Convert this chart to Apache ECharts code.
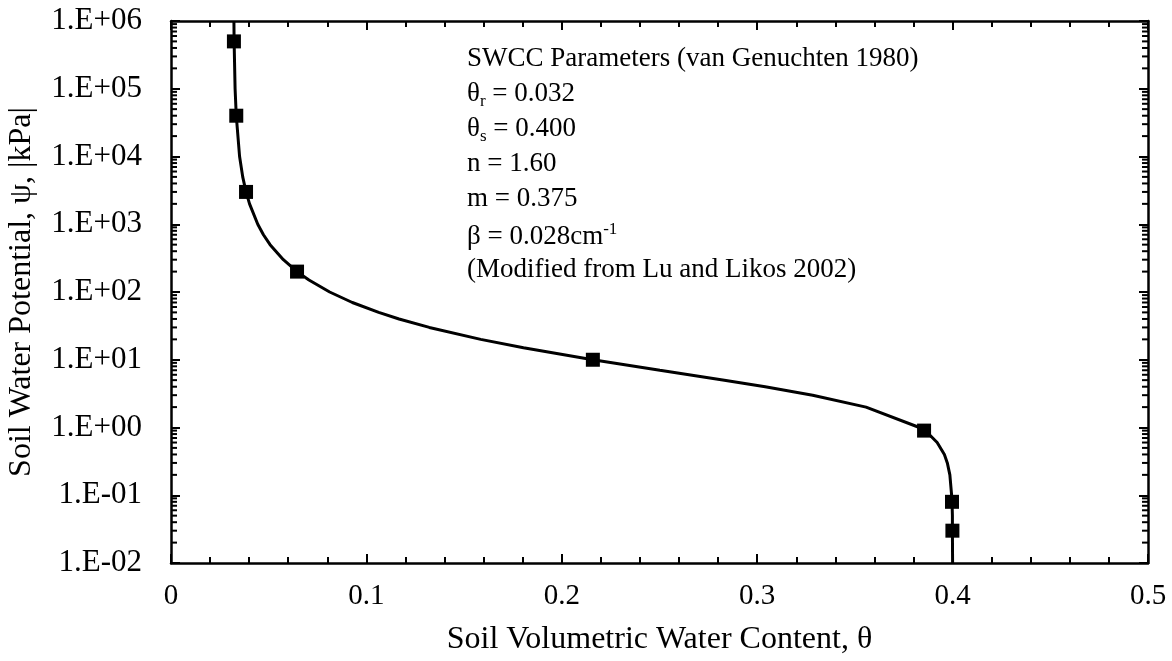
<!DOCTYPE html>
<html>
<head>
<meta charset="utf-8">
<script src="https://cdn.jsdelivr.net/npm/echarts@6/dist/echarts.min.js"></script>
<style>
html,body{margin:0;padding:0;background:#fff;}
#chart{width:1172px;height:661px;}
</style>
</head>
<body>
<div id="chart"></div>
<script>
// Curve: suction psi in kPa and volumetric water content theta
const curvePsi   = [1000000, 500000, 100000, 40000, 10000, 5000, 3000, 2000, 1000, 700, 500, 300, 200, 150, 100, 70, 50, 40, 30, 20, 15, 10, 7, 5, 4, 3, 2, 1, 0.9, 0.8, 0.6, 0.4, 0.3, 0.2, 0.1, 0.08, 0.05, 0.03, 0.01];
const curveTheta = [0.0322, 0.0323, 0.0328, 0.0334, 0.0351, 0.0367, 0.0384, 0.0402, 0.0444, 0.0473, 0.0507, 0.0575, 0.0645, 0.0706, 0.0812, 0.0928, 0.1063, 0.1167, 0.1322, 0.1585, 0.1804, 0.2159, 0.2502, 0.2832, 0.3041, 0.3284, 0.3557, 0.3830, 0.3854, 0.3878, 0.3921, 0.3958, 0.3973, 0.3986, 0.3995, 0.3997, 0.3999, 0.3999, 0.4000];
// Measured points (square markers)
const pointPsi   = [500000, 40000, 3000, 200, 10, 0.9, 0.08, 0.03];
const pointTheta = [0.0322, 0.0334, 0.0384, 0.0645, 0.2159, 0.3854, 0.3997, 0.3999];
// Tick labels
const xTickLabels = ['0', '0.1', '0.2', '0.3', '0.4', '0.5'];
const yTickLabels = ['1.E-02', '1.E-01', '1.E+00', '1.E+01', '1.E+02', '1.E+03', '1.E+04', '1.E+05', '1.E+06'];
// Annotation lines
const noteLines = [
  '{t|SWCC Parameters (van Genuchten 1980)}',
  '{t|θ}{sub|r}{t| = 0.032}',
  '{t|θ}{sub|s}{t| = 0.400}',
  '{t|n = 1.60}',
  '{t|m = 0.375}',
  '{t|β = 0.028cm}{sup|-1}',
  '{t|(Modified from Lu and Likos 2002)}'
];

const FONT = "'Liberation Serif','Times New Roman',serif";
const chart = echarts.init(document.getElementById('chart'), null, {renderer: 'canvas'});

const curveData = curvePsi.map((p, i) => [curveTheta[i], p]);
const pointData = pointPsi.map((p, i) => [pointTheta[i], p]);
// minor log tick positions (2..9 x 10^k)
const minorVals = [];
for (let e = -2; e < 6; e++) {
  for (let k = 2; k <= 9; k++) minorVals.push([0, k * Math.pow(10, e)]);
}

const axisLine = {show: true, onZero: false, lineStyle: {color: '#000', width: 2.5}};
const tickStyle = {color: '#000', width: 2};

const noteGraphics = noteLines.map((s, i) => ({
  type: 'text', left: 467, top: 45 + i * 35.2, silent: true,
  style: {
    text: s, fill: '#000',
    rich: {
      t: {fontFamily: FONT, fontSize: 27, lineHeight: 32, fill: '#000'},
      sub: {fontFamily: FONT, fontSize: 17, lineHeight: 14, verticalAlign: 'bottom', fill: '#000'},
      sup: {fontFamily: FONT, fontSize: 17, lineHeight: 16, verticalAlign: 'top', fill: '#000'}
    }
  }
}));

const option = {
  animation: false,
  backgroundColor: '#fff',
  grid: {left: 171, right: 24, top: 21, bottom: 98, containLabel: false, outerBoundsMode: 'none'},
  xAxis: [{
    type: 'value', min: 0, max: 0.5, interval: 0.1, position: 'bottom',
    axisLine: axisLine,
    axisTick: {show: true, inside: true, length: 9, lineStyle: tickStyle},
    minorTick: {show: true, splitNumber: 5, length: 6, lineStyle: tickStyle},
    splitLine: {show: false},
    axisLabel: {color: '#000', fontFamily: FONT, fontSize: 29, margin: 19,
      formatter: (v) => xTickLabels[Math.round(v * 10)]},
    name: 'Soil Volumetric Water Content, θ', nameLocation: 'middle', nameGap: 61,
    nameTextStyle: {color: '#000', fontFamily: FONT, fontSize: 32}
  }, {
    type: 'value', min: 0, max: 0.5, interval: 0.1, position: 'top',
    axisLine: axisLine,
    axisTick: {show: true, inside: true, length: 9, lineStyle: tickStyle},
    minorTick: {show: true, splitNumber: 5, length: 6, lineStyle: tickStyle},
    splitLine: {show: false},
    axisLabel: {show: false}
  }],
  yAxis: [{
    type: 'log', logBase: 10, min: 0.01, max: 1000000, interval: 1, splitNumber: 8, position: 'left',
    axisLine: axisLine,
    axisTick: {show: true, inside: true, length: 9, lineStyle: tickStyle},
    splitLine: {show: false},
    axisLabel: {color: '#000', fontFamily: FONT, fontSize: 31, margin: 29,
      formatter: (v) => yTickLabels[Math.round(Math.log10(v)) + 2]},
    name: 'Soil Water Potential, ψ, |kPa|', nameLocation: 'middle', nameGap: 133,
    nameTextStyle: {color: '#000', fontFamily: FONT, fontSize: 32}
  }, {
    type: 'log', logBase: 10, min: 0.01, max: 1000000, interval: 1, splitNumber: 8, position: 'right',
    axisLine: axisLine,
    axisTick: {show: true, inside: true, length: 9, lineStyle: tickStyle},
    splitLine: {show: false},
    axisLabel: {show: false}
  }],
  series: [{
    type: 'custom', xAxisIndex: 0, yAxisIndex: 0, silent: true, clip: false,
    data: minorVals,
    renderItem: function (params, api) {
      const v = api.value(1);
      const a = api.coord([0, v]);
      const b = api.coord([0.5, v]);
      return {type: 'group', children: [
        {type: 'line', shape: {x1: a[0], y1: a[1], x2: a[0] + 6, y2: a[1]}, style: {stroke: '#000', lineWidth: 2}},
        {type: 'line', shape: {x1: b[0] - 6, y1: b[1], x2: b[0], y2: b[1]}, style: {stroke: '#000', lineWidth: 2}}
      ]};
    }
  }, {
    type: 'line', xAxisIndex: 0, yAxisIndex: 0, data: curveData,
    showSymbol: false, smooth: false,
    lineStyle: {color: '#000', width: 3}
  }, {
    type: 'scatter', xAxisIndex: 0, yAxisIndex: 0, data: pointData,
    symbol: 'rect', symbolSize: 14,
    itemStyle: {color: '#000', opacity: 1}
  }],
  graphic: noteGraphics
};
chart.setOption(option);
</script>
</body>
</html>
